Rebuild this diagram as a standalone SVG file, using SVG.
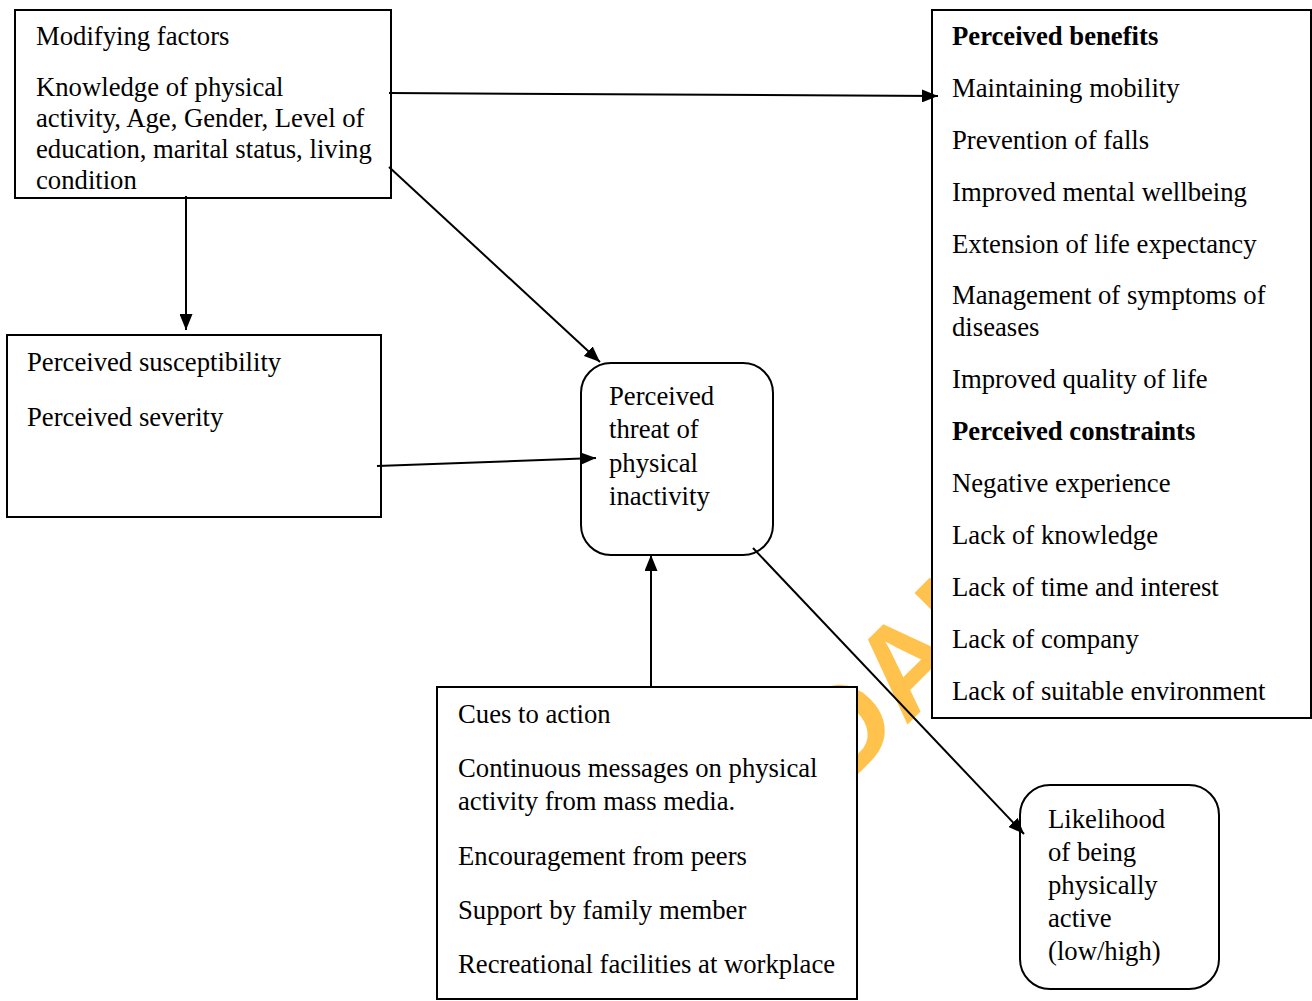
<svg xmlns="http://www.w3.org/2000/svg" width="1312" height="1001" viewBox="0 0 1312 1001">
<defs>
<marker id="ah" markerUnits="userSpaceOnUse" markerWidth="17" markerHeight="13" refX="16" refY="6.5" orient="auto">
<path d="M0,0 L16,6.5 L0,13 z" fill="#000"/>
</marker>
<style>
.box{fill:#fff;stroke:#000;stroke-width:2}
.t{font-family:"Liberation Serif","Times New Roman",serif;font-size:26.7px;fill:#000}
.b{font-weight:bold}
.c{stroke:#000;stroke-width:2;fill:none;marker-end:url(#ah)}
.wm{font-family:"Liberation Sans",Arial,sans-serif;font-weight:bold;font-size:128px;fill:#FFC34D}
</style>
</defs>
<rect width="1312" height="1001" fill="#fff"/>
<text class="wm" transform="translate(840,792) rotate(-45)">DAN</text>

<g id="modifying">
<rect class="box" x="15" y="10" width="376" height="188"/>
<text class="t" x="36" y="45">Modifying factors</text>
<text class="t" x="36" y="96">Knowledge of physical</text>
<text class="t" x="36" y="127">activity, Age, Gender, Level of</text>
<text class="t" x="36" y="158">education, marital status, living</text>
<text class="t" x="36" y="189">condition</text>
</g>

<g id="benefits">
<rect class="box" x="932" y="10" width="379" height="708"/>
<text class="t b" x="952" y="45">Perceived benefits</text>
<text class="t" x="952" y="97">Maintaining mobility</text>
<text class="t" x="952" y="149">Prevention of falls</text>
<text class="t" x="952" y="201">Improved mental wellbeing</text>
<text class="t" x="952" y="253">Extension of life expectancy</text>
<text class="t" x="952" y="304">Management of symptoms of</text>
<text class="t" x="952" y="336">diseases</text>
<text class="t" x="952" y="388">Improved quality of life</text>
<text class="t b" x="952" y="440">Perceived constraints</text>
<text class="t" x="952" y="492">Negative experience</text>
<text class="t" x="952" y="544">Lack of knowledge</text>
<text class="t" x="952" y="596">Lack of time and interest</text>
<text class="t" x="952" y="648">Lack of company</text>
<text class="t" x="952" y="700">Lack of suitable environment</text>
</g>

<g id="susceptibility">
<rect class="box" x="7" y="335" width="374" height="182"/>
<text class="t" x="27" y="371">Perceived susceptibility</text>
<text class="t" x="27" y="426">Perceived severity</text>
</g>

<g id="threat">
<rect class="box" x="581" y="363" width="192" height="192" rx="30" ry="30"/>
<text class="t" x="609" y="405">Perceived</text>
<text class="t" x="609" y="438">threat of</text>
<text class="t" x="609" y="472">physical</text>
<text class="t" x="609" y="505">inactivity</text>
</g>

<g id="cues">
<rect class="box" x="437" y="687" width="420" height="312"/>
<text class="t" x="458" y="723">Cues to action</text>
<text class="t" x="458" y="777">Continuous messages on physical</text>
<text class="t" x="458" y="810">activity from mass media.</text>
<text class="t" x="458" y="865">Encouragement from peers</text>
<text class="t" x="458" y="919">Support by family member</text>
<text class="t" x="458" y="973">Recreational facilities at workplace</text>
</g>

<g id="likelihood">
<rect class="box" x="1020" y="785" width="199" height="204" rx="30" ry="30"/>
<text class="t" x="1048" y="828">Likelihood</text>
<text class="t" x="1048" y="861">of being</text>
<text class="t" x="1048" y="894">physically</text>
<text class="t" x="1048" y="927">active</text>
<text class="t" x="1048" y="960">(low/high)</text>
</g>

<g id="connectors">
<line class="c" x1="389" y1="93" x2="938" y2="96"/>
<line class="c" x1="389" y1="167" x2="600" y2="362"/>
<line class="c" x1="186" y1="196" x2="186" y2="330"/>
<line class="c" x1="377" y1="466" x2="596" y2="458"/>
<line class="c" x1="651" y1="687" x2="651" y2="555"/>
<line class="c" x1="753" y1="548" x2="1024" y2="834"/>
</g>
</svg>
